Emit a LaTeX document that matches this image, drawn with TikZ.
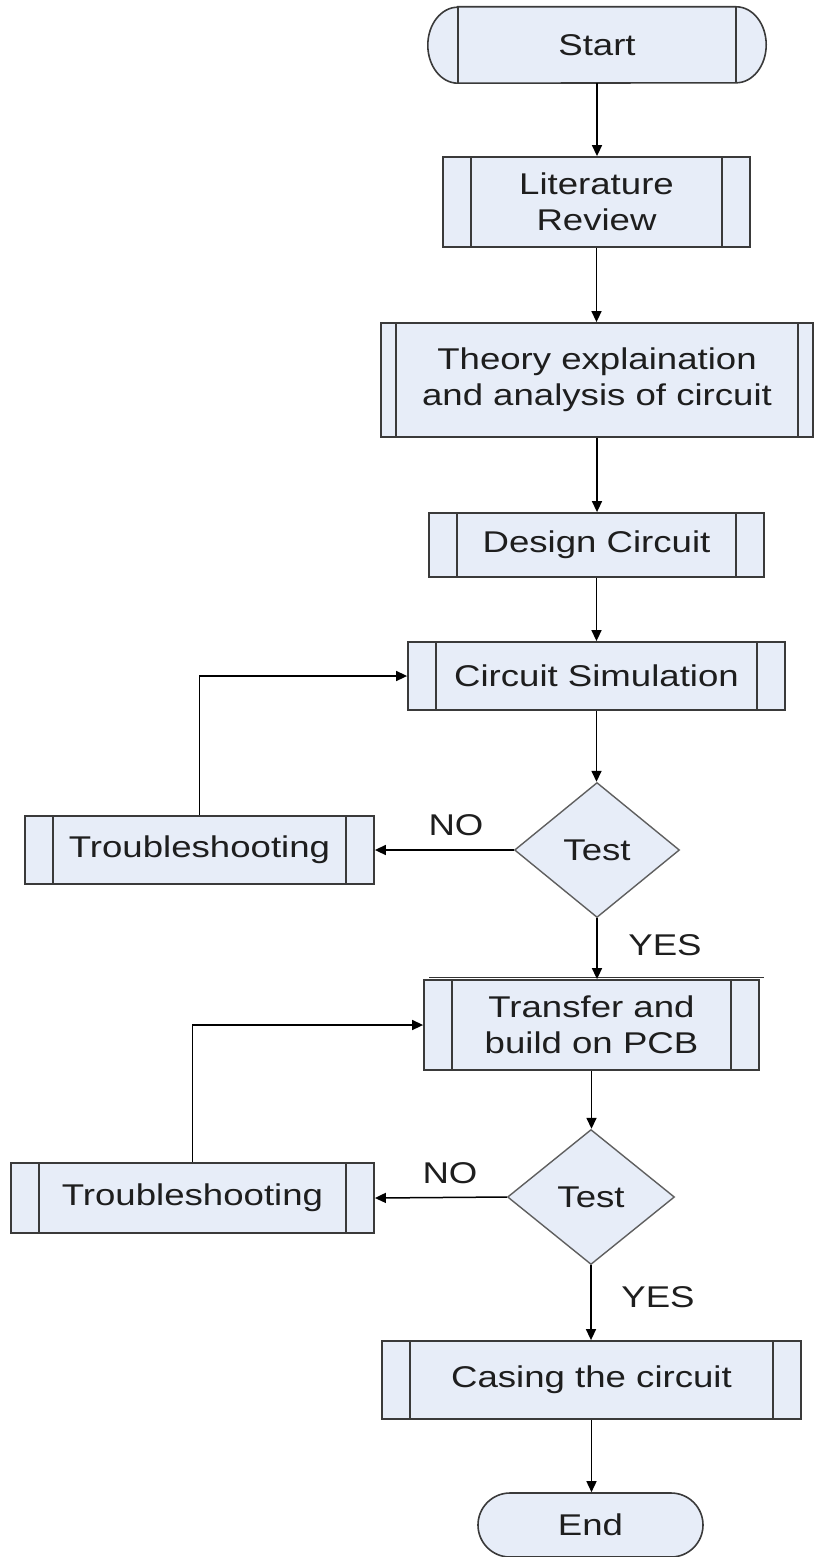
\documentclass[tikz,border=0pt]{standalone}
\usepackage{fontspec}
\setmainfont{Liberation Sans}[FakeStretch=1.22]
\usetikzlibrary{shapes.geometric,arrows.meta}
\pgfdeclarelayer{background}
\pgfsetlayers{background,main}
\definecolor{boxfill}{RGB}{231,237,248}
\definecolor{boxline}{RGB}{58,58,58}
\definecolor{diag}{RGB}{95,95,95}
\definecolor{txt}{RGB}{30,30,30}
\begin{document}
\begin{tikzpicture}[x=1pt,y=-1pt,
  every node/.style={font=\fontsize{30}{36}\selectfont, text=txt},
  proc/.style={draw=boxline, fill=boxfill, line width=1.8pt, rectangle, inner sep=0pt, align=center,
    path picture={\draw[boxline, line width=1.8pt]
      ([xshift=#1]path picture bounding box.north west) -- ([xshift=#1]path picture bounding box.south west)
      ([xshift=-#1]path picture bounding box.north east) -- ([xshift=-#1]path picture bounding box.south east);}},
  proc/.default=28pt,
  decision/.style={diamond, draw=diag, fill=boxfill, line width=1.4pt, inner sep=0pt, minimum width=165pt, minimum height=135pt},
  conn/.style={draw=black, line width=1.5pt, -{Triangle[length=11pt,width=10pt]}},
  lbl/.style={inner sep=0pt}
]
\useasboundingbox (0,0) rectangle (815,1557);

% Start terminal
\node[rectangle, inner sep=0pt, minimum width=338pt, minimum height=76pt] (start) at (597,45) {Start};
\begin{pgfonlayer}{background}
\draw[boxline, fill=boxfill, line width=1.6pt]
  ([xshift=30pt]start.north west) -- ([xshift=-30pt]start.north east)
  arc[start angle=90, end angle=-90, x radius=30pt, y radius=38pt]
  -- ([xshift=30pt]start.south west)
  arc[start angle=270, end angle=90, x radius=30pt, y radius=38pt] -- cycle;
\end{pgfonlayer}
\draw[boxline, line width=1.8pt] ([xshift=30pt]start.north west) -- ([xshift=30pt]start.south west)
  ([xshift=-30pt]start.north east) -- ([xshift=-30pt]start.south east);

\node[proc, minimum width=307pt, minimum height=90pt] (lit) at (596.5,202) {Literature\\Review};
\node[proc=15pt, minimum width=432pt, minimum height=114pt] (theory) at (597,380) {Theory explaination\\and analysis of circuit};
\node[proc, minimum width=335pt, minimum height=64pt] (design) at (596.5,545) {Design Circuit};
\node[proc, minimum width=377pt, minimum height=68pt] (sim) at (596.5,676) {Circuit Simulation};
\node[decision] (test1) at (597,850) {Test};
\node[proc, minimum width=349pt, minimum height=68pt] (trouble1) at (199.5,850) {Troubleshooting};
\node[proc, minimum width=335pt, minimum height=90pt] (transfer) at (591.5,1025) {Transfer and\\build on PCB};
\node[decision, minimum width=167pt] (test2) at (591,1197) {Test};
\node[proc, minimum width=363pt, minimum height=70pt] (trouble2) at (192.5,1198) {Troubleshooting};
\node[proc, minimum width=419pt, minimum height=78pt] (casing) at (591.5,1380) {Casing the circuit};
\node[draw=boxline, fill=boxfill, line width=1.6pt, rectangle, rounded corners=32pt, inner sep=0pt,
  minimum width=225pt, minimum height=64pt] (end) at (590.5,1525) {End};

% labels
\node[lbl] (no1) at (456,825) {NO};
\node[lbl] (yes1) at (665,945) {YES};
\node[lbl] (no2) at (450,1173) {NO};
\node[lbl] (yes2) at (658,1297) {YES};

% stray line above the transfer box
\coordinate (la) at (429,977);
\coordinate (lb) at (764,977);
\draw[black!80, line width=1pt] (la) -- (lb);

% connectors
\draw[conn] (start.south) -- (start.south |- lit.north);
\draw[conn] (lit.south) -- (lit.south |- theory.north);
\draw[conn] (theory.south) -- (theory.south |- design.north);
\draw[conn] (design.south) -- (design.south |- sim.north);
\draw[conn] (sim.south) -- (sim.south |- test1.north);
\draw[conn] (test1.west) -- (trouble1.east);
\draw[conn] (trouble1.north) |- (sim.west);
\draw[conn] (test1.south) -- (test1.south |- transfer.north);
\draw[conn] (transfer.south) -- (transfer.south |- test2.north);
\draw[conn] (test2.west) -- (trouble2.east);
\draw[conn] (trouble2.north) |- (transfer.west);
\draw[conn] (test2.south) -- (test2.south |- casing.north);
\draw[conn] (casing.south) -- (casing.south |- end.north);
\end{tikzpicture}
\end{document}
